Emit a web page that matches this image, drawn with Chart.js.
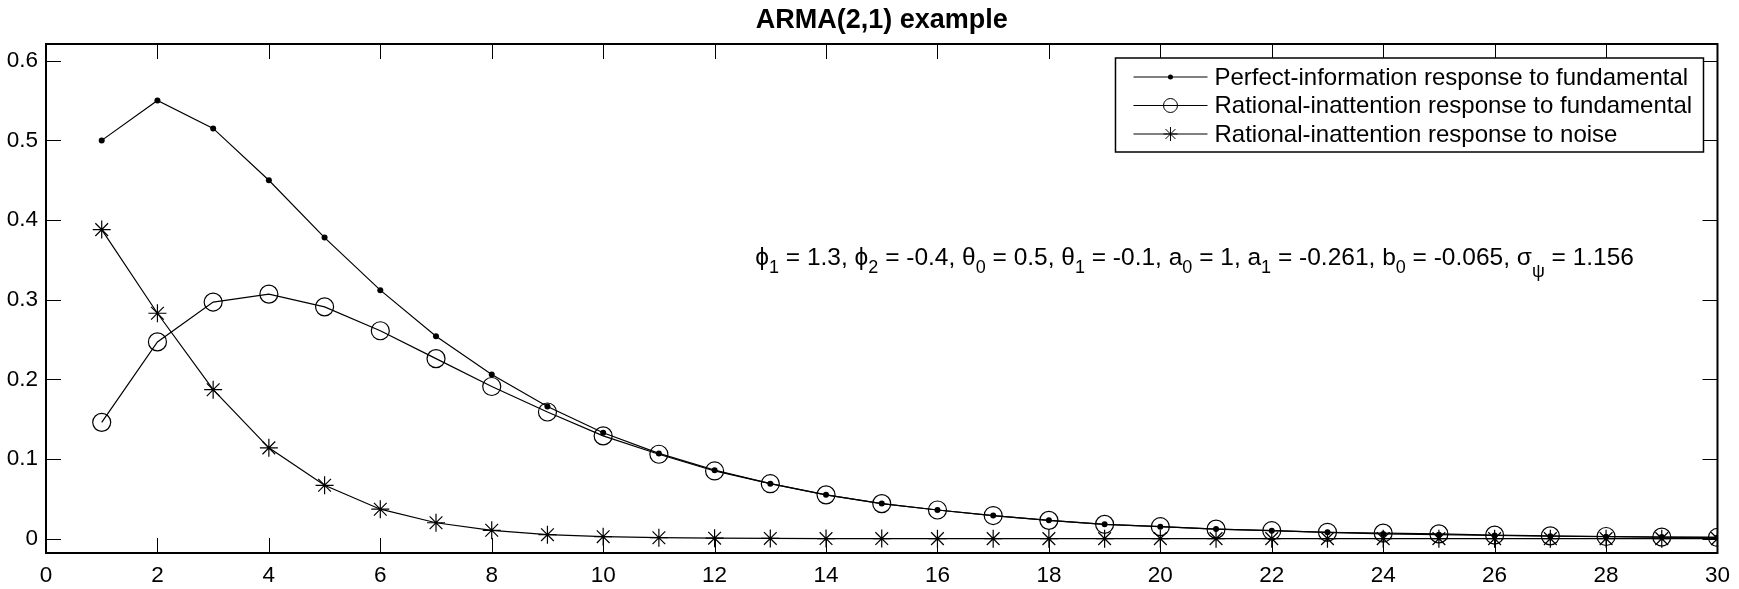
<!DOCTYPE html>
<html>
<head>
<meta charset="utf-8">
<script src="https://cdn.jsdelivr.net/npm/chart.js@4.4.1/dist/chart.umd.min.js"></script>
<style>
html,body{margin:0;padding:0;background:#fff;}
#c{display:block;}
</style>
</head>
<body>
<canvas id="c" width="1739" height="589"></canvas>
<script>
// ---------- data ----------
const steps = [1,2,3,4,5,6,7,8,9,10,11,12,13,14,15,16,17,18,19,20,21,22,23,24,25,26,27,28,29,30];
const perfectInfo = [0.500,0.550,0.515,0.450,0.378,0.312,0.254,0.206,0.166,0.133,0.107,0.086,0.069,0.055,0.044,0.036,0.029,0.023,0.018,0.015,0.012,0.010,0.008,0.006,0.005,0.004,0.003,0.0025,0.002,0.0015];
const riFundamental = [0.146,0.247,0.297,0.307,0.291,0.261,0.226,0.191,0.159,0.129,0.106,0.085,0.069,0.055,0.044,0.036,0.029,0.023,0.018,0.015,0.012,0.010,0.008,0.007,0.006,0.0045,0.0035,0.0027,0.002,0.0015];
const riNoise = [0.388,0.283,0.187,0.114,0.067,0.037,0.020,0.0105,0.005,0.0025,0.0012,0.0006,0.0003,0.0001,0.0001,0,0,0,0,0,0,0,0,0,0,0,0,0,0,0];
const seriesLabels = ['Perfect-information response to fundamental','Rational-inattention response to fundamental','Rational-inattention response to noise'];
const xTickValues = [0,2,4,6,8,10,12,14,16,18,20,22,24,26,28,30];
const xTickLabels = ['0','2','4','6','8','10','12','14','16','18','20','22','24','26','28','30'];
const yTickValues = [0,0.1,0.2,0.3,0.4,0.5,0.6];
const yTickLabels = ['0','0.1','0.2','0.3','0.4','0.5','0.6'];
const titleText = 'ARMA(2,1) example';
// annotation: [main text, subscript]
const annotationParts = [['\u03D5','1'],[' = 1.3, \u03D5','2'],[' = -0.4, \u03B8','0'],[' = 0.5, \u03B8','1'],[' = -0.1, a','0'],[' = 1, a','1'],[' = -0.261, b','0'],[' = -0.065, \u03C3','\u03C8'],[' = 1.156','']];
const annotationAt = {x: 12.73, y: 0.352};

const FONT = "'Liberation Sans', Arial, Helvetica, 'DejaVu Sans', sans-serif";

// ---------- plugins ----------
const boxTicks = {
  id: 'boxTicks',
  afterDatasetsDraw(chart) {
    const {ctx, chartArea: a, scales} = chart;
    const L = 15;
    ctx.save();
    ctx.strokeStyle = '#000';
    ctx.lineWidth = 1;
    ctx.beginPath();
    scales.x.ticks.forEach(t => {
      const px = Math.round(scales.x.getPixelForValue(t.value)) + 0.5;
      ctx.moveTo(px, a.bottom); ctx.lineTo(px, a.bottom - L);
      ctx.moveTo(px, a.top); ctx.lineTo(px, a.top + L);
    });
    scales.y.ticks.forEach(t => {
      const py = Math.round(scales.y.getPixelForValue(t.value)) + 0.5;
      ctx.moveTo(a.left, py); ctx.lineTo(a.left + L, py);
      ctx.moveTo(a.right, py); ctx.lineTo(a.right - L, py);
    });
    ctx.stroke();
    ctx.lineWidth = 2;
    ctx.strokeRect(a.left, a.top, a.right - a.left, a.bottom - a.top);
    ctx.restore();
  }
};

// title centred over the axes box (as in the original figure)
const axesTitle = {
  id: 'axesTitle',
  afterDraw(chart) {
    const {ctx, chartArea: a} = chart;
    ctx.save();
    ctx.fillStyle = '#000';
    ctx.font = `bold 27px ${FONT}`;
    ctx.textAlign = 'center';
    ctx.textBaseline = 'middle';
    ctx.fillText(titleText, (a.left + a.right) / 2, 21);
    ctx.restore();
  }
};

const annotation = {
  id: 'annotation',
  afterDatasetsDraw(chart) {
    const {ctx, scales} = chart;
    let x = scales.x.getPixelForValue(annotationAt.x);
    const y = scales.y.getPixelForValue(annotationAt.y);
    const main = `24.5px ${FONT}`, sub = `18px ${FONT}`;
    ctx.save();
    ctx.fillStyle = '#000';
    ctx.textBaseline = 'middle';
    ctx.textAlign = 'left';
    annotationParts.forEach(([m, s]) => {
      ctx.font = main;
      ctx.fillText(m, x, y);
      x += ctx.measureText(m).width;
      if (s) {
        ctx.font = sub;
        ctx.fillText(s, x, y + (s === '\u03C8' ? 14 : 10));
        x += ctx.measureText(s).width;
      }
    });
    ctx.restore();
  }
};

const legendBox = {
  id: 'legendBox',
  afterDraw(chart) {
    const {ctx, chartArea: a} = chart;
    const w = 588, h = 94;
    const x0 = a.right - 14 - w, y0 = a.top + 14;
    ctx.save();
    ctx.fillStyle = '#fff';
    ctx.fillRect(x0, y0, w, h);
    ctx.strokeStyle = '#000';
    ctx.lineWidth = 1.5;
    ctx.strokeRect(x0, y0, w, h);
    ctx.textBaseline = 'middle';
    ctx.textAlign = 'left';
    chart.data.datasets.forEach((ds, i) => {
      const y = y0 + 19 + i * 28.5;
      ctx.lineWidth = 1;
      ctx.strokeStyle = '#000';
      ctx.beginPath();
      ctx.moveTo(x0 + 18, y); ctx.lineTo(x0 + 92, y);
      ctx.stroke();
      ctx.fillStyle = ds.pointBackgroundColor;
      ctx.strokeStyle = ds.pointBorderColor;
      Chart.helpers.drawPoint(ctx, {
        pointStyle: ds.pointStyle,
        radius: ds.legendRadius,
        borderWidth: ds.pointBorderWidth,
        rotation: 0
      }, x0 + 55, y);
      ctx.fillStyle = '#000';
      ctx.font = `24px ${FONT}`;
      ctx.fillText(ds.label, x0 + 99, y + 1);
    });
    ctx.restore();
  }
};

// ---------- chart ----------
const mk = arr => steps.map((s, i) => ({x: s, y: arr[i]}));
new Chart(document.getElementById('c'), {
  type: 'line',
  data: {
    datasets: [
      {label: seriesLabels[0], data: mk(perfectInfo), borderColor: '#000', borderWidth: 1.2,
       pointStyle: 'circle', pointRadius: 3, pointBackgroundColor: '#000', pointBorderColor: '#000', pointBorderWidth: 0,
       legendRadius: 2.5, tension: 0, fill: false},
      {label: seriesLabels[1], data: mk(riFundamental), borderColor: '#000', borderWidth: 1.2,
       pointStyle: 'circle', pointRadius: 9, pointBackgroundColor: 'rgba(0,0,0,0)', pointBorderColor: '#000', pointBorderWidth: 1.2,
       legendRadius: 7, tension: 0, fill: false},
      {label: seriesLabels[2], data: mk(riNoise), borderColor: '#000', borderWidth: 1.2,
       pointStyle: 'star', pointRadius: 9, pointBackgroundColor: 'rgba(0,0,0,0)', pointBorderColor: '#000', pointBorderWidth: 1.2,
       legendRadius: 7, tension: 0, fill: false}
    ]
  },
  options: {
    responsive: false,
    animation: false,
    devicePixelRatio: 1,
    layout: {padding: {left: 0, right: 14, top: 44, bottom: 0}},
    plugins: {
      legend: {display: false},
      tooltip: {enabled: false},
      title: {display: false}
    },
    scales: {
      x: {
        type: 'linear', min: 0, max: 30,
        grid: {display: false, drawTicks: false}, border: {display: false},
        afterBuildTicks: s => { s.ticks = xTickValues.map(v => ({value: v})); },
        afterFit: s => { s.height = 36; },
        ticks: {color: '#000', font: {family: FONT, size: 22.5}, padding: 9, maxRotation: 0, autoSkip: false,
                callback: (v, i) => xTickLabels[i]}
      },
      y: {
        type: 'linear', min: -0.018, max: 0.621,
        grid: {display: false, drawTicks: false}, border: {display: false},
        afterBuildTicks: s => { s.ticks = yTickValues.map(v => ({value: v})); },
        afterFit: s => { s.width = 46; },
        ticks: {color: '#000', font: {family: FONT, size: 22.5}, padding: 8, autoSkip: false,
                callback: (v, i) => yTickLabels[i]}
      }
    }
  },
  plugins: [boxTicks, annotation, legendBox, axesTitle]
});
</script>
</body>
</html>
